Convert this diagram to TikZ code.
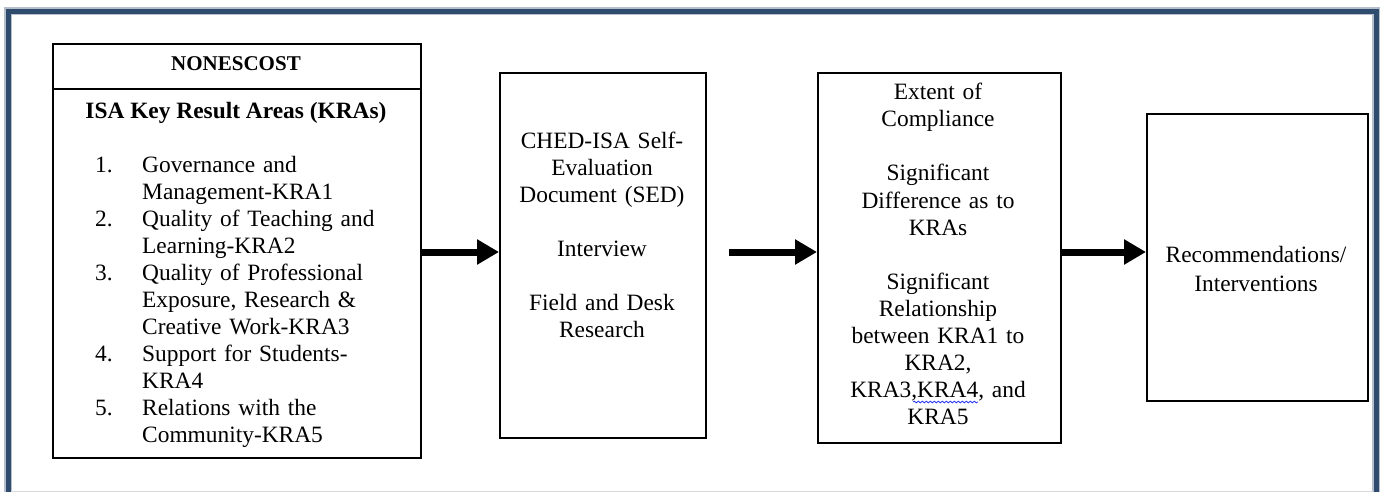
\documentclass[tikz,border=0pt]{standalone}
\usepackage{fontspec}
\setmainfont{Liberation Serif}
\usetikzlibrary{arrows.meta,decorations.pathmorphing}
\definecolor{framec}{HTML}{2F4B6E}
\definecolor{spellblue}{HTML}{2A3CF0}
\begin{document}
\begin{tikzpicture}[x=1pt,y=-1pt,
  box/.style={draw=black, line width=1.8pt, inner sep=0pt, anchor=north west},
  flow/.style={line width=7pt, -{Triangle[length=22pt,width=24pt]}},
  txt/.style={inner sep=0pt, font=\fontsize{23.4}{27}\selectfont, align=center, anchor=base},
  head/.style={inner sep=0pt, font=\bfseries\fontsize{23.4}{27}\selectfont, anchor=base},
]
\useasboundingbox (0,0) rectangle (1380,492);
\clip (0,0) rectangle (1380,492);
\fill[white] (0,0) rectangle (1380,492);
% frame
\draw[framec!35, line width=8pt] (8,530) -- (8,11.5) -- (1376,11.5) -- (1376,530);
\draw[framec, line width=5pt] (8,530) -- (8,11.5) -- (1376,11.5) -- (1376,530);
\draw[gray!30, line width=1pt] (11,491) -- (1373,491);

% boxes
\node[box, minimum width=368pt, minimum height=414pt] (b1) at (52,43) {};
\coordinate (dv) at (0,89);
\draw[line width=1.8pt] (b1.west |- dv) -- (b1.east |- dv);
\node[box, minimum width=206pt, minimum height=365pt] (b2) at (499,72) {};
\node[box, minimum width=243pt, minimum height=370pt] (b3) at (817,72) {};
\node[box, minimum width=221pt, minimum height=287pt] (b4) at (1146,113) {};

% arrows
\coordinate (ay) at (0,252);
\coordinate (s2) at (729,252);
\draw[flow] (b1.east |- ay) -- (b2.west |- ay);
\draw[flow] (s2) -- (b3.west |- ay);
\draw[flow] (b3.east |- ay) -- (b4.west |- ay);

% box 1 text
\node[head, font=\bfseries\fontsize{21}{25}\selectfont] (t0) at (236,71) {NONESCOST};
\node[head] (t1h) at (236,118) {ISA Key Result Areas (KRAs)};
\node[txt, anchor=base west, align=left, text width=320pt] (t1) at (95,172) {%
\makebox[47pt][l]{1.}Governance and\\
\hspace*{47pt}Management-KRA1\\
\makebox[47pt][l]{2.}Quality of Teaching and\\
\hspace*{47pt}Learning-KRA2\\
\makebox[47pt][l]{3.}Quality of Professional\\
\hspace*{47pt}Exposure, Research \&\\
\hspace*{47pt}Creative Work-KRA3\\
\makebox[47pt][l]{4.}Support for Students-\\
\hspace*{47pt}KRA4\\
\makebox[47pt][l]{5.}Relations with the\\
\hspace*{47pt}Community-KRA5};

% box 2 text
\node[txt, text width=206pt] (t2) at (602,148) {CHED-ISA Self-\\Evaluation\\Document (SED)\\[27pt]Interview\\[27pt]Field and Desk\\Research};

% box 3 text
\node[txt, text width=243pt] (t3) at (938,100) {Extent of\\Compliance\\[27pt]Significant\\Difference as to\\KRAs\\[27pt]Significant\\Relationship\\between KRA1 to\\KRA2,\\KRA3,KRA4, and\\KRA5};
\draw[spellblue, line width=0.8pt, decorate, decoration={snake, amplitude=0.9pt, segment length=4pt}] (913,402) -- (978,402);

% box 4 text
\node[txt, text width=221pt] (t4) at (1256,262) {Recommendations/\\[2pt]Interventions};
\end{tikzpicture}
\end{document}
